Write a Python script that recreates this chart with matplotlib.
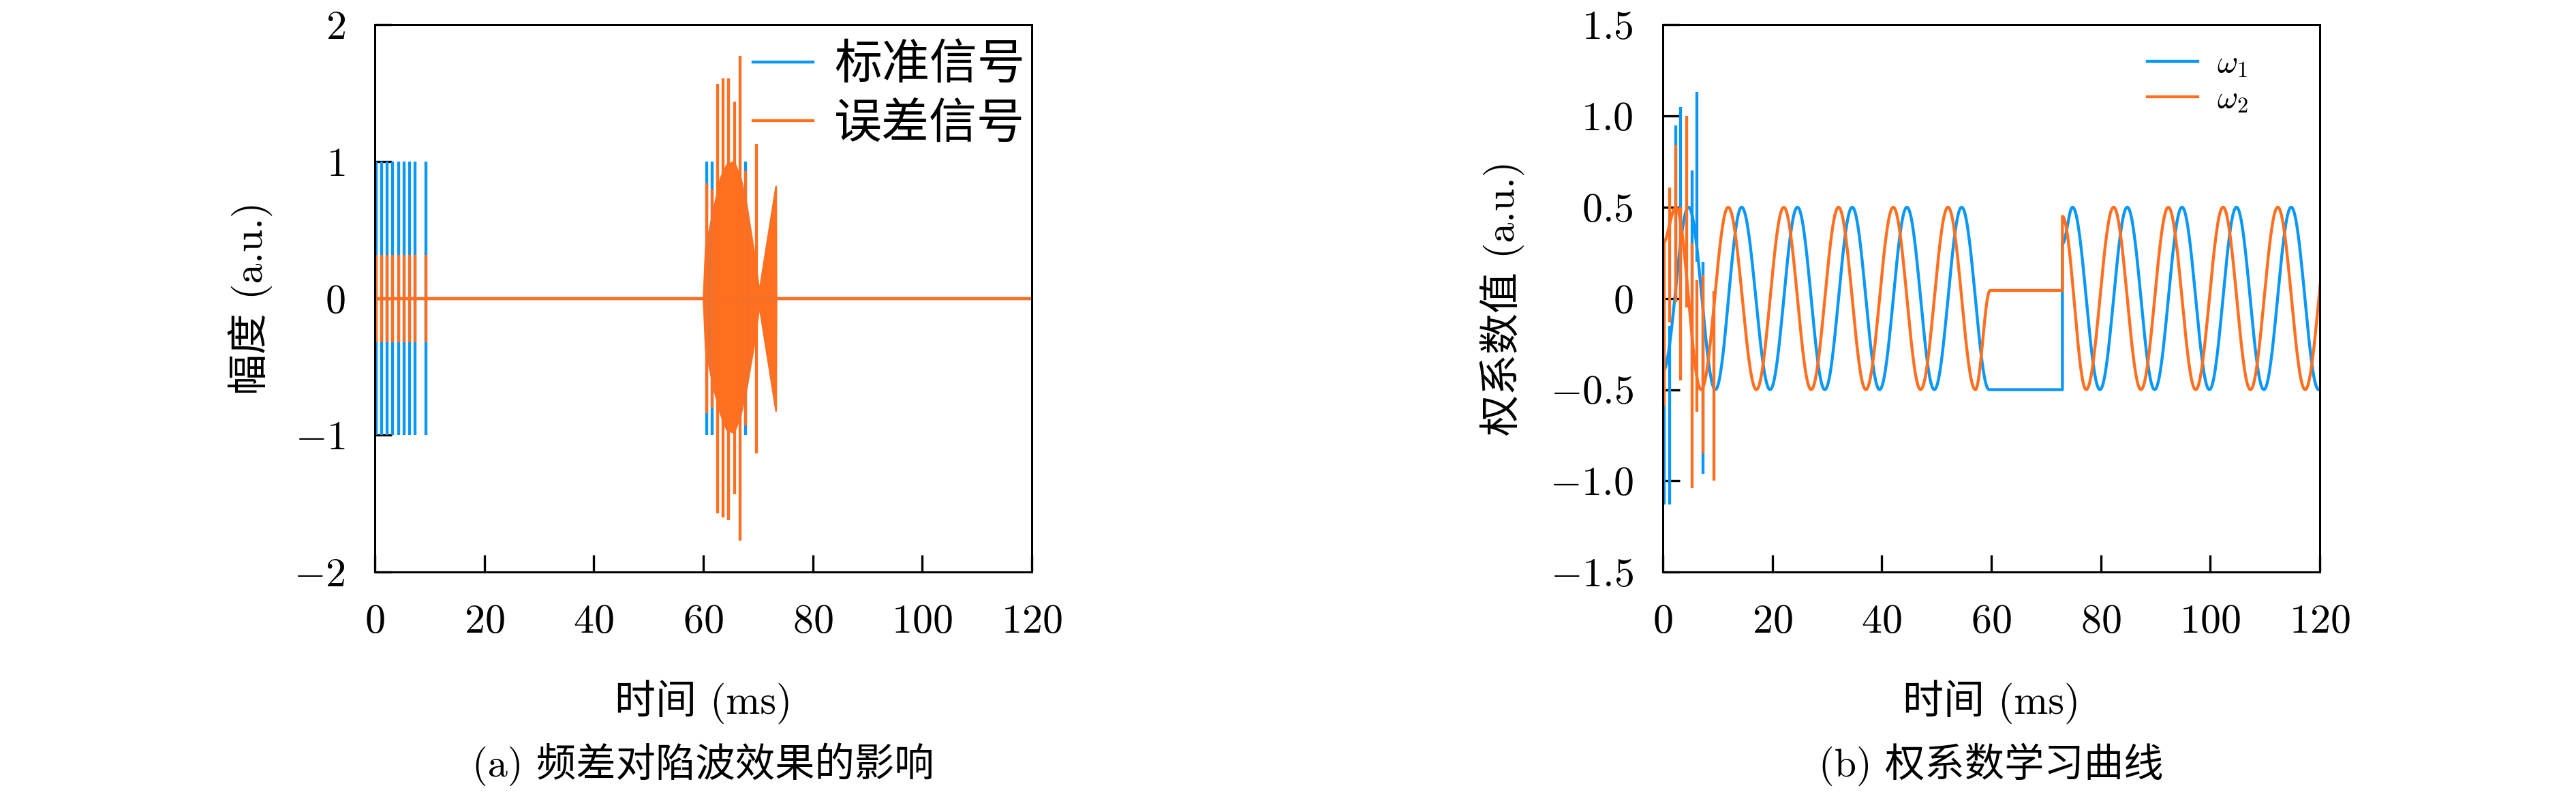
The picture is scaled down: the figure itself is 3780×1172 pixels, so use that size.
import matplotlib
import matplotlib.pyplot as plt
import numpy as np
from matplotlib.ticker import FixedLocator, FuncFormatter

matplotlib.use("Agg")

plt.rcParams["font.family"] = ["cmr10", "Noto Sans CJK SC"]
plt.rcParams["mathtext.fontset"] = "cm"
plt.rcParams["axes.formatter.use_mathtext"] = True
plt.rcParams["axes.unicode_minus"] = True

BLUE = "#0A97F5"
ORANGE = "#FF6F20"

# ---- (a) standard / error signal ----
std_spike_t = [0.3, 1.25, 2.3, 3.25, 4.3, 5.3, 6.3, 7.3, 9.35, 60.6, 61.6, 67.7]
std_spike_amp = [1, 1, 1, 1, 1, 1, 1, 1, 1, 1, 1, 1]

err_early_t = [0.3, 1.25, 2.3, 3.25, 4.3, 5.3, 6.3, 7.3, 9.35]
err_early_amp = [0.32, 0.32, 0.32, 0.32, 0.32, 0.32, 0.32, 0.32, 0.32]

err_env_t = [60.0, 60.4, 61.85, 63.1, 64.3, 65.6, 66.8, 67.9, 69.3, 70.2, 73.25, 73.3]
err_env_hi = [0.0, 0.37, 0.65, 0.88, 0.98, 1.0, 0.88, 0.68, 0.32, 0.05, 0.82, 0.0]
err_env_lo = [0.0, -0.37, -0.65, -0.84, -0.96, -0.98, -0.85, -0.65, -0.32, -0.05, -0.82, 0.0]

err_burst_t = [60.6, 61.6, 62.6, 63.6, 64.6, 65.7, 66.7, 67.7, 69.7]
err_burst_hi = [0.84, 0.80, 1.57, 1.61, 1.61, 1.44, 1.77, 0.93, 1.13]
err_burst_lo = [-0.84, -0.80, -1.57, -1.60, -1.62, -1.43, -1.77, -0.93, -1.13]

# ---- (b) weight learning curves: extrema / corner points ----
w1_t = [0, 4.7, 9.6, 14.4, 19.6, 24.6, 29.6, 34.6, 39.6, 44.6, 49.6, 54.6, 59.6,
        73.0, 73.0, 74.85, 79.85, 84.85, 89.85, 94.85, 99.85, 104.8, 109.8, 114.8, 119.8, 124.8]
w1_v = [-0.4, 0.5, -0.5, 0.5, -0.5, 0.5, -0.5, 0.5, -0.5, 0.5, -0.5, 0.5, -0.5,
        -0.5, 0.3, 0.5, -0.5, 0.5, -0.5, 0.5, -0.5, 0.5, -0.5, 0.5, -0.5, 0.5]

w2_t = [0, 2.4, 7.0, 11.95, 17.1, 22.1, 27.1, 32.1, 37.1, 42.1, 47.1, 52.1, 57.1, 59.8,
        73.0, 73.0, 77.35, 82.35, 87.35, 92.35, 97.35, 102.35, 107.35, 112.35, 117.35, 122.35]
w2_v = [0.3, 0.5, -0.5, 0.5, -0.5, 0.5, -0.5, 0.5, -0.5, 0.5, -0.5, 0.5, -0.5, 0.044,
        0.044, 0.45, -0.5, 0.5, -0.5, 0.5, -0.5, 0.5, -0.5, 0.5, -0.5, 0.5]

w1_spike_t = [0.2, 1.25, 2.35, 3.3, 5.3, 6.25, 7.3]
w1_spike_lo = [-1.13, -1.13, 0.0, -0.1, -0.4, 0.2, -0.96]
w1_spike_hi = [0.0, -0.15, 0.95, 1.05, 0.70, 1.13, 0.2]

w2_spike_t = [0.2, 1.25, 2.35, 3.3, 4.35, 5.3, 6.25, 7.3, 9.35]
w2_spike_lo = [-0.59, -0.13, -0.02, -0.45, -0.05, -1.04, -0.62, -0.85, -1.0]
w2_spike_hi = [0.3, 0.61, 0.84, 0.5, 1.0, 0.3, 0.1, 0.13, 0.04]

xticks = [0, 20, 40, 60, 80, 100, 120]


def eased(ts, vs, n=40):
    xs, ys = [], []
    s = np.linspace(0, 1, n)
    for i in range(len(ts) - 1):
        xs.append(ts[i] + (ts[i + 1] - ts[i]) * s)
        ys.append(vs[i] + (vs[i + 1] - vs[i]) * (1 - np.cos(np.pi * s)) / 2)
    return np.concatenate(xs), np.concatenate(ys)


def style_axes(ax, xlabel, ylabel, ylab_x):
    ax.tick_params(direction="in", length=7.5, width=1.0, labelsize=18,
                   top=False, right=False)
    ax.tick_params(axis="x", pad=14)
    ax.tick_params(axis="y", pad=13)
    for sp in ax.spines.values():
        sp.set_linewidth(0.9)
    ax.set_xlabel(xlabel, fontsize=18, va="center")
    ax.xaxis.set_label_coords(0.5, -0.238)
    ax.set_ylabel(ylabel, fontsize=18, va="center")
    ax.yaxis.set_label_coords(ylab_x, 0.5)


fig = plt.figure(figsize=(15.75, 1172 / 240), dpi=240)
lw = 1.3

# (a)
ax1 = fig.add_axes([0.1455, 0.284, 0.255, 0.685])
ax1.plot([0, 120], [0, 0], color=BLUE, lw=lw, label="标准信号")
ax1.vlines(std_spike_t, [-a for a in std_spike_amp], std_spike_amp, color=BLUE, lw=lw)
ax1.plot([0, 120], [0, 0], color=ORANGE, lw=lw, label="误差信号")
ax1.vlines(err_early_t, [-a for a in err_early_amp], err_early_amp, color=ORANGE, lw=lw)
ax1.fill_between(err_env_t, err_env_lo, err_env_hi, color=ORANGE, lw=0.8, edgecolor=ORANGE)
ax1.vlines(err_burst_t, err_burst_lo, err_burst_hi, color=ORANGE, lw=lw)
ax1.set_xlim(0, 120)
ax1.set_ylim(-2, 2)
ax1.xaxis.set_major_locator(FixedLocator(xticks))
ax1.yaxis.set_major_locator(FixedLocator([-2, -1, 0, 1, 2]))
ax1.yaxis.set_major_formatter(FuncFormatter(lambda v, p: f"${v:g}$"))
ax1.xaxis.set_major_formatter(FuncFormatter(lambda v, p: f"${v:g}$"))
style_axes(ax1, "时间 (ms)", "幅度 (a.u.)", -0.19)
ax1.legend(loc="upper right", frameon=False, fontsize=21, handlelength=1.25,
           handletextpad=0.45, borderaxespad=0.0, borderpad=0.0, labelspacing=0.3,
           bbox_to_anchor=(0.99, 0.965))

# (b)
ax2 = fig.add_axes([0.6455, 0.284, 0.255, 0.685])
x1, y1 = eased(w1_t, w1_v)
x2, y2 = eased(w2_t, w2_v)
ax2.plot(x1, y1, color=BLUE, lw=lw, label=r"$\omega_1$")
ax2.vlines(w1_spike_t, w1_spike_lo, w1_spike_hi, color=BLUE, lw=lw)
ax2.plot(x2, y2, color=ORANGE, lw=lw, label=r"$\omega_2$")
ax2.vlines(w2_spike_t, w2_spike_lo, w2_spike_hi, color=ORANGE, lw=lw)
ax2.set_xlim(0, 120)
ax2.set_ylim(-1.5, 1.5)
ax2.xaxis.set_major_locator(FixedLocator(xticks))
ax2.yaxis.set_major_locator(FixedLocator([-1.5, -1.0, -0.5, 0, 0.5, 1.0, 1.5]))
ax2.yaxis.set_major_formatter(FuncFormatter(lambda v, p: "$0$" if v == 0 else f"${v:.1f}$"))
ax2.xaxis.set_major_formatter(FuncFormatter(lambda v, p: f"${v:g}$"))
style_axes(ax2, "时间 (ms)", "权系数值 (a.u.)", -0.245)
ax2.legend(loc="upper right", frameon=False, fontsize=14, handlelength=1.6,
           handletextpad=0.6, borderaxespad=0.4, labelspacing=0.2,
           bbox_to_anchor=(0.93, 1.0))

fig.text(0.273, 0.043, "(a) 频差对陷波效果的影响", ha="center", va="center", fontsize=17.5)
fig.text(0.773, 0.043, "(b) 权系数学习曲线", ha="center", va="center", fontsize=17.5)

fig.savefig("out.png", dpi=240)
